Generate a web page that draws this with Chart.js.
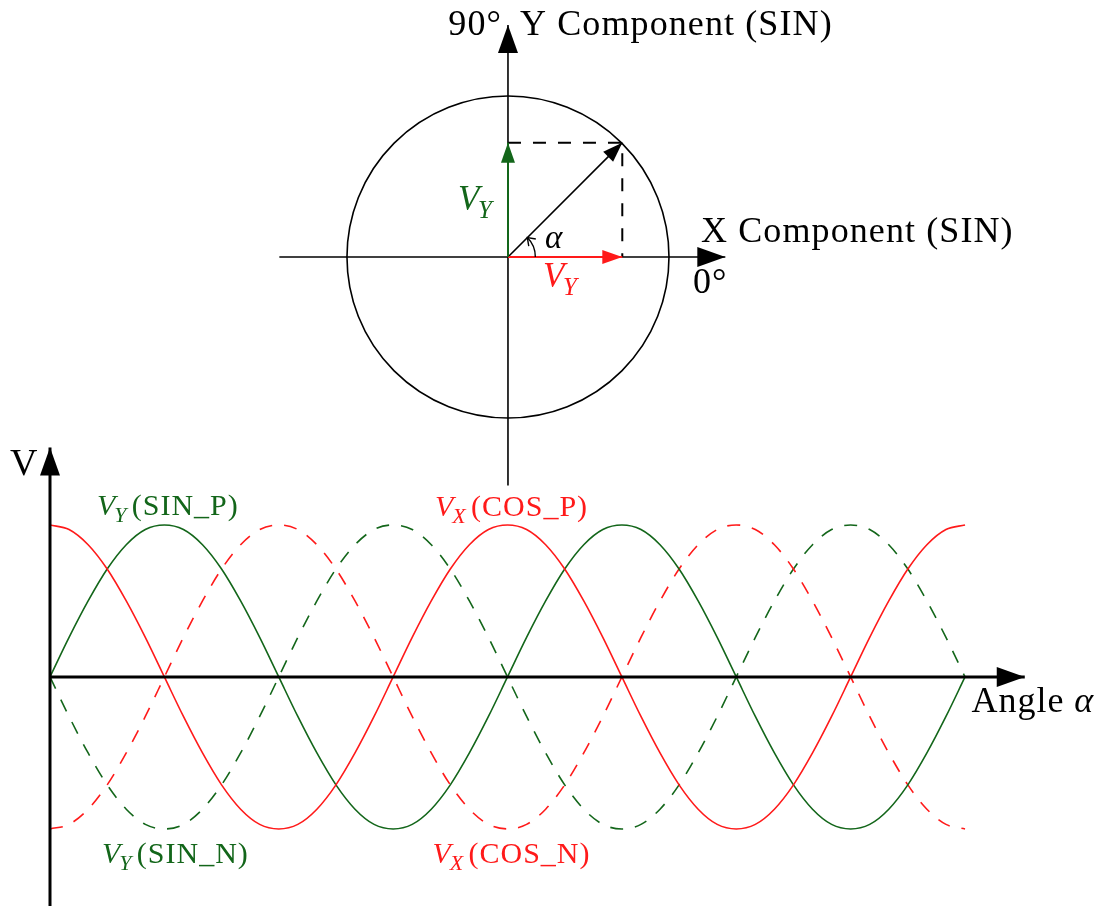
<!DOCTYPE html>
<html>
<head>
<meta charset="utf-8">
<script src="https://cdn.jsdelivr.net/npm/chart.js@4.4.1/dist/chart.umd.min.js"></script>
<style>
  html, body { margin: 0; padding: 0; background: #fff; }
  #wrap { width: 1100px; height: 906px; }
</style>
</head>
<body>
<div id="wrap"><canvas id="chart-resolver"></canvas></div>
<script>
// Electrical angle in degrees, two full turns
const anglesDeg = [0, 15, 30, 45, 60, 75, 90, 105, 120, 135, 150, 165, 180,
  195, 210, 225, 240, 255, 270, 285, 300, 315, 330, 345, 360,
  375, 390, 405, 420, 435, 450, 465, 480, 495, 510, 525, 540,
  555, 570, 585, 600, 615, 630, 645, 660, 675, 690, 705, 720];
const sinP = [0, 0.26, 0.5, 0.71, 0.87, 0.97, 1, 0.97, 0.87, 0.71, 0.5, 0.26, 0,
  -0.26, -0.5, -0.71, -0.87, -0.97, -1, -0.97, -0.87, -0.71, -0.5, -0.26, 0,
  0.26, 0.5, 0.71, 0.87, 0.97, 1, 0.97, 0.87, 0.71, 0.5, 0.26, 0,
  -0.26, -0.5, -0.71, -0.87, -0.97, -1, -0.97, -0.87, -0.71, -0.5, -0.26, 0];
const sinN = [0, -0.26, -0.5, -0.71, -0.87, -0.97, -1, -0.97, -0.87, -0.71, -0.5, -0.26, 0,
  0.26, 0.5, 0.71, 0.87, 0.97, 1, 0.97, 0.87, 0.71, 0.5, 0.26, 0,
  -0.26, -0.5, -0.71, -0.87, -0.97, -1, -0.97, -0.87, -0.71, -0.5, -0.26, 0,
  0.26, 0.5, 0.71, 0.87, 0.97, 1, 0.97, 0.87, 0.71, 0.5, 0.26, 0];
const cosP = [1, 0.97, 0.87, 0.71, 0.5, 0.26, 0, -0.26, -0.5, -0.71, -0.87, -0.97, -1,
  -0.97, -0.87, -0.71, -0.5, -0.26, 0, 0.26, 0.5, 0.71, 0.87, 0.97, 1,
  0.97, 0.87, 0.71, 0.5, 0.26, 0, -0.26, -0.5, -0.71, -0.87, -0.97, -1,
  -0.97, -0.87, -0.71, -0.5, -0.26, 0, 0.26, 0.5, 0.71, 0.87, 0.97, 1];
const cosN = [-1, -0.97, -0.87, -0.71, -0.5, -0.26, 0, 0.26, 0.5, 0.71, 0.87, 0.97, 1,
  0.97, 0.87, 0.71, 0.5, 0.26, 0, -0.26, -0.5, -0.71, -0.87, -0.97, -1,
  -0.97, -0.87, -0.71, -0.5, -0.26, 0, 0.26, 0.5, 0.71, 0.87, 0.97, 1,
  0.97, 0.87, 0.71, 0.5, 0.26, 0, -0.26, -0.5, -0.71, -0.87, -0.97, -1];

// Phasor diagram (unit circle)
const phasorAngle = 45;
const phasorTip = [0.71, 0.71];
const phasorAxisX = [-1.42, 1.35];
const phasorAxisY = [-1.42, 1.44];

// Axes of the waveform plot
const waveAxisX = [0, 767];
const waveAxisY = [-1.6, 1.51];

const RED = '#ff1a1a';
const GREEN = '#13661a';
const FONT = '"Liberation Serif", "Times New Roman", serif';

function pts(xs, ys) {
  return xs.map((x, i) => ({ x: x, y: ys[i] }));
}

function wave(ys, color, dashed) {
  return {
    data: pts(anglesDeg, ys),
    borderColor: color,
    borderWidth: 1.6,
    borderDash: dashed ? [13, 12] : [],
    cubicInterpolationMode: 'monotone',
    pointRadius: 0,
    xAxisID: 'x', yAxisID: 'y'
  };
}

function seg(xs, ys, color, width, opts) {
  return Object.assign({
    data: pts(xs, ys),
    borderColor: color,
    borderWidth: width,
    pointRadius: 0,
    tension: 0,
    xAxisID: 'px', yAxisID: 'py'
  }, opts || {});
}

// first entries end up on top
const datasets = [
  seg([0, 0], [0, phasorTip[1]], GREEN, 2, { arrowHead: [20, 7] }),
  seg([0, phasorTip[0]], [0, 0], RED, 2, { arrowHead: [20, 7] }),
  seg([0, phasorTip[0]], [0, phasorTip[1]], '#000', 1.6, { arrowHead: [20, 7] }),
  seg([0, phasorTip[0], phasorTip[0]], [phasorTip[1], phasorTip[1], 0], '#000', 2, { borderDash: [13, 12] }),
  // phasor axes
  seg(phasorAxisX, [0, 0], '#000', 1.6, { arrowHead: [28, 10] }),
  seg([0, 0], phasorAxisY, '#000', 1.6, { arrowHead: [28, 10] }),
  // waveform axes
  Object.assign(seg(waveAxisX, [0, 0], '#000', 3, { arrowHead: [28, 10] }), { xAxisID: 'x', yAxisID: 'y' }),
  Object.assign(seg([0, 0], waveAxisY, '#000', 3, { arrowHead: [28, 10] }), { xAxisID: 'x', yAxisID: 'y' }),
  wave(cosP, RED, false),
  wave(sinP, GREEN, false),
  wave(cosN, RED, true),
  wave(sinN, GREEN, true)
];

// text: [string, style] where style is rm, it or sub
const labels = [
  { on: 'phasor', x: -0.037, y: 1.379, align: 'right', size: 36, sp: 1.1, color: '#000', parts: [['90°', 'rm']] },
  { on: 'phasor', x: 0.075, y: 1.379, size: 36, sp: 1.1, color: '#000', parts: [['Y Component (SIN)', 'rm']] },
  { on: 'phasor', x: 1.199, y: 0.093, size: 36, sp: 1.1, color: '#000', parts: [['X Component (SIN)', 'rm']] },
  { on: 'phasor', x: 1.149, y: -0.224, size: 36, sp: 1.1, color: '#000', parts: [['0°', 'rm']] },
  { on: 'phasor', x: -0.311, y: 0.292, size: 35, sp: 0, color: GREEN, parts: [['V', 'it'], ['Y', 'sub']] },
  { on: 'phasor', x: 0.230, y: 0.056, size: 33, sp: 0, color: '#000', parts: [['α', 'it']] },
  { on: 'phasor', x: 0.217, y: -0.186, size: 35, sp: 0, color: RED, parts: [['V', 'it'], ['Y', 'sub']] },
  { on: 'wave', x: 37, y: 1.066, size: 30, sp: 1, color: GREEN, parts: [['V', 'it'], ['Y', 'sub'], ['(SIN_P)', 'rm']] },
  { on: 'wave', x: 303, y: 1.059, size: 30, sp: 1, color: RED, parts: [['V', 'it'], ['X', 'sub'], ['(COS_P)', 'rm']] },
  { on: 'wave', x: 41, y: -1.224, size: 30, sp: 1, color: GREEN, parts: [['V', 'it'], ['Y', 'sub'], ['(SIN_N)', 'rm']] },
  { on: 'wave', x: 301, y: -1.224, size: 30, sp: 1, color: RED, parts: [['V', 'it'], ['X', 'sub'], ['(COS_N)', 'rm']] },
  { on: 'wave', x: 725, y: -0.23, size: 36, sp: 1, color: '#000', parts: [['Angle ', 'rm'], ['α', 'it']] },
  { on: 'wave', x: -31.5, y: 1.329, size: 38, sp: 0, color: '#000', parts: [['V', 'rm']] }
];

function drawHead(ctx, x0, y0, x1, y1, size, color) {
  const a = Math.atan2(y1 - y0, x1 - x0);
  const len = size[0], half = size[1];
  ctx.save();
  ctx.translate(x1, y1);
  ctx.rotate(a);
  ctx.fillStyle = color;
  ctx.beginPath();
  ctx.moveTo(0, 0);
  ctx.lineTo(-len, -half);
  ctx.lineTo(-len, half);
  ctx.closePath();
  ctx.fill();
  ctx.restore();
}

const diagramPlugin = {
  id: 'diagram',
  beforeDatasetsDraw(chart) {
    const { ctx, scales } = chart;
    const cx = scales.px.getPixelForValue(0);
    const cy = scales.py.getPixelForValue(0);
    const r = scales.px.getPixelForValue(1) - cx;
    ctx.save();
    ctx.strokeStyle = '#000';
    ctx.lineWidth = 1.6;
    ctx.beginPath();
    ctx.arc(cx, cy, r, 0, Math.PI * 2);
    ctx.stroke();
    ctx.restore();
  },
  afterDatasetsDraw(chart) {
    const { ctx, scales } = chart;
    chart.data.datasets.forEach((ds, i) => {
      if (!ds.arrowHead) return;
      const els = chart.getDatasetMeta(i).data;
      const a = els[els.length - 2], b = els[els.length - 1];
      drawHead(ctx, a.x, a.y, b.x, b.y, ds.arrowHead, ds.borderColor);
    });

    // angle marker
    const cx = scales.px.getPixelForValue(0);
    const cy = scales.py.getPixelForValue(0);
    const r = scales.px.getPixelForValue(0.17) - cx;
    const th = phasorAngle * Math.PI / 180;
    ctx.save();
    ctx.strokeStyle = '#000';
    ctx.lineWidth = 1.4;
    ctx.beginPath();
    ctx.arc(cx, cy, r, 0, -th, true);
    ctx.stroke();
    const ex = cx + r * Math.cos(th), ey = cy - r * Math.sin(th);
    const dir = Math.atan2(-Math.cos(th), -Math.sin(th));
    ctx.translate(ex, ey);
    ctx.rotate(dir);
    ctx.beginPath();
    ctx.moveTo(-7, -5);
    ctx.lineTo(0, 0);
    ctx.lineTo(-7, 5);
    ctx.stroke();
    ctx.restore();

    // text
    labels.forEach(l => {
      const xs = l.on === 'wave' ? scales.x : scales.px;
      const ys = l.on === 'wave' ? scales.y : scales.py;
      let x = xs.getPixelForValue(l.x);
      const y = ys.getPixelForValue(l.y);
      ctx.save();
      ctx.fillStyle = l.color;
      ctx.textBaseline = 'alphabetic';
      const fontFor = st => st === 'rm' ? `${l.size}px ${FONT}`
        : st === 'it' ? `italic ${l.size}px ${FONT}`
        : `italic ${Math.round(l.size * 0.72)}px ${FONT}`;
      const spFor = st => st === 'rm' ? l.sp + 'px' : '0px';
      let total = 0;
      l.parts.forEach((p, k) => {
        ctx.font = fontFor(p[1]);
        ctx.letterSpacing = spFor(p[1]);
        total += ctx.measureText(p[0]).width;
        if (p[1] === 'sub' && k < l.parts.length - 1) total += l.size * 0.14;
      });
      if (l.align === 'right') x -= total;
      l.parts.forEach((p, k) => {
        ctx.font = fontFor(p[1]);
        ctx.letterSpacing = spFor(p[1]);
        const dy = p[1] === 'sub' ? l.size * 0.22 : 0;
        const dx = p[1] === 'sub' ? -l.size * 0.04 : 0;
        ctx.fillText(p[0], x + dx, y + dy);
        x += ctx.measureText(p[0]).width;
        if (p[1] === 'sub' && k < l.parts.length - 1) x += l.size * 0.14;
      });
      ctx.restore();
    });
  }
};

new Chart(document.getElementById('chart-resolver'), {
  type: 'line',
  data: { datasets: datasets },
  options: {
    responsive: true,
    maintainAspectRatio: false,
    animation: false,
    layout: { padding: 0 },
    plugins: { legend: { display: false }, tooltip: { enabled: false } },
    scales: {
      x: { type: 'linear', display: false, min: -39.34, max: 826.2 },
      y: { type: 'linear', display: false, min: -1.507, max: 4.454 },
      px: { type: 'linear', axis: 'x', position: 'bottom', display: false, min: -3.155, max: 3.677 },
      py: { type: 'linear', axis: 'y', position: 'left', display: false, min: -4.031, max: 1.596 }
    }
  },
  plugins: [diagramPlugin]
});
</script>
</body>
</html>
